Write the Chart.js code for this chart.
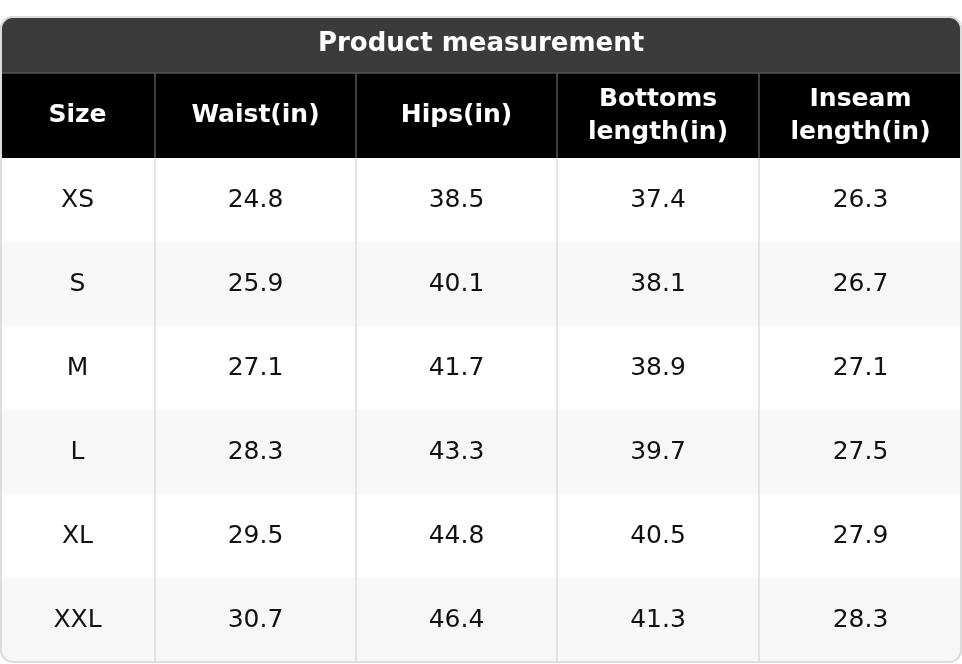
<!DOCTYPE html>
<html><head><meta charset="utf-8">
<script src="https://cdn.jsdelivr.net/npm/chart.js@4/dist/chart.umd.min.js"></script>
<style>html,body{margin:0;padding:0;background:#fff}canvas{display:block}</style>
</head><body>
<canvas id="c" width="962" height="664"></canvas>
<script>
const title = "Product measurement";
const headers = [["Size"], ["Waist(in)"], ["Hips(in)"], ["Bottoms", "length(in)"], ["Inseam", "length(in)"]];
const sizes = ["XS", "S", "M", "L", "XL", "XXL"];
const waist = ["24.8", "25.9", "27.1", "28.3", "29.5", "30.7"];
const hips = ["38.5", "40.1", "41.7", "43.3", "44.8", "46.4"];
const bottoms = ["37.4", "38.1", "38.9", "39.7", "40.5", "41.3"];
const inseam = ["26.3", "26.7", "27.1", "27.5", "27.9", "28.3"];
const columns = [sizes, waist, hips, bottoms, inseam];
const colWeights = [155, 201, 201, 202, 203];

function rr(ctx, x, y, w, h, r, tl, bl) {
  ctx.beginPath();
  ctx.moveTo(x + (tl ? r : 0), y);
  ctx.lineTo(x + w - (tl ? r : 0), y);
  if (tl) ctx.arcTo(x + w, y, x + w, y + r, r); else ctx.lineTo(x + w, y);
  ctx.lineTo(x + w, y + h - (bl ? r : 0));
  if (bl) ctx.arcTo(x + w, y + h, x + w - r, y + h, r); else ctx.lineTo(x + w, y + h);
  ctx.lineTo(x + (bl ? r : 0), y + h);
  if (bl) ctx.arcTo(x, y + h, x, y + h - r, r); else ctx.lineTo(x, y + h);
  ctx.lineTo(x, y + (tl ? r : 0));
  if (tl) ctx.arcTo(x, y, x + r, y, r);
  ctx.closePath();
}

const tablePlugin = {
  id: 'table',
  afterDraw(chart) {
    const ctx = chart.ctx;
    const xs = chart.scales.x, ys = chart.scales.y;
    const total = colWeights.reduce((a, b) => a + b, 0);
    const edges = [0]; colWeights.forEach(w => edges.push(edges[edges.length - 1] + w / total * columns.length));
    const X = edges.map(e => xs.getPixelForValue(e));
    const rowTop = i => ys.getPixelForValue(i);
    const L = X[0], R = X[X.length - 1];
    const top = 16, titleH = 57, headTop = top + titleH, headBot = rowTop(0);
    const bottom = rowTop(sizes.length);
    ctx.save();
    // background + clip
    rr(ctx, L + 0.5, top + 0.5, R - L - 1, bottom - top, 12, true, true);
    ctx.save(); ctx.clip();
    ctx.fillStyle = '#3b3b3b'; ctx.fillRect(L, top, R - L, titleH);
    ctx.fillStyle = '#000'; ctx.fillRect(L, headTop, R - L, headBot - headTop);
    for (let i = 0; i < sizes.length; i++) {
      ctx.fillStyle = i % 2 ? '#f7f7f7' : '#ffffff';
      ctx.fillRect(L, rowTop(i), R - L, rowTop(i + 1) - rowTop(i));
    }
    // lines
    ctx.lineWidth = 1.5;
    ctx.strokeStyle = '#555';
    ctx.beginPath(); ctx.moveTo(L, headTop); ctx.lineTo(R, headTop); ctx.stroke();
    for (let c = 1; c < X.length - 1; c++) {
      ctx.strokeStyle = '#555';
      ctx.beginPath(); ctx.moveTo(X[c], headTop); ctx.lineTo(X[c], headBot); ctx.stroke();
      ctx.strokeStyle = '#dcdcdc';
      ctx.beginPath(); ctx.moveTo(X[c], headBot); ctx.lineTo(X[c], bottom); ctx.stroke();
    }
    ctx.restore();
    ctx.strokeStyle = '#dcdcdc'; ctx.lineWidth = 2;
    rr(ctx, L + 1, top + 1, R - L - 2, bottom - top - 1, 12, true, true); ctx.stroke();
    // text
    ctx.textAlign = 'center'; ctx.textBaseline = 'middle';
    ctx.fillStyle = '#fff';
    ctx.font = 'bold 26px "DejaVu Sans"';
    ctx.fillText(title, (L + R) / 2, top + titleH / 2);
    ctx.font = 'bold 25px "DejaVu Sans"';
    headers.forEach((h, c) => {
      const cx = (X[c] + X[c + 1]) / 2, cy = (headTop + headBot) / 2;
      h.forEach((line, k) => ctx.fillText(line, cx, cy + (k - (h.length - 1) / 2) * 33));
    });
    ctx.fillStyle = '#111';
    ctx.font = '25px "DejaVu Sans"';
    columns.forEach((col, c) => {
      const cx = (X[c] + X[c + 1]) / 2;
      col.forEach((v, i) => ctx.fillText(v, cx, (rowTop(i) + rowTop(i + 1)) / 2));
    });
    ctx.restore();
  }
};

new Chart(document.getElementById('c'), {
  type: 'scatter',
  data: { datasets: [{ data: [] }] },
  options: {
    responsive: false, animation: false, devicePixelRatio: 1,
    layout: { padding: { left: 0, right: 0, top: 158, bottom: 2 } },
    plugins: { legend: { display: false }, tooltip: { enabled: false } },
    scales: {
      x: { type: 'linear', display: false, min: 0, max: columns.length },
      y: { type: 'linear', display: false, reverse: true, min: 0, max: sizes.length }
    }
  },
  plugins: [tablePlugin]
});
</script>
</body></html>
